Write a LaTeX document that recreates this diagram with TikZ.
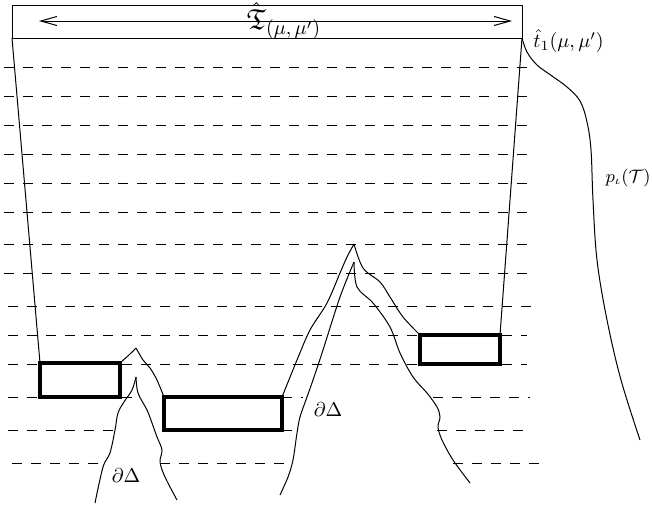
\documentclass[tikz,border=0pt]{standalone}
\usepackage{amssymb}
\usepackage{tikz}
\usetikzlibrary{arrows.meta, fit}
\tikzset{
  % --- level lines and walls ---
  levelline/.style={dash pattern=on 5pt off 4.5pt, line width=0.5pt},
  wall/.style={line width=0.5pt},
  span/.style={{Straight Barb[length=8pt, width=4.5pt]}-{Straight Barb[length=8pt, width=4.5pt]},
    line width=0.5pt},
  % --- thick slabs ---
  slab/.style={draw, line width=2.4pt, inner sep=0pt, outer sep=0pt, fill=white},
  % --- boundary curves ---
  ridge/.style={line width=0.5pt, smooth, tension=0.55},
  tag/.style={inner sep=0pt, font=\normalsize},
}

\begin{document}
\begin{tikzpicture}[x=0.5pt, y=-0.5pt]
    \useasboundingbox (0,0) rectangle (652,504);

    % ---- Level lines ----
    \foreach \y in {67,96,125,154,183,212,244,273}{ \draw[levelline] (4,\y) -- (530,\y); }
    \draw[levelline] (8,306) -- (537,306);
    \draw[levelline] (8,335) -- (527,335);
    \draw[levelline] (8,364) -- (527,364);
    \foreach \a/\b/\y in {8/135/397, 282/303/397, 433/530/397,
                          8/115/430, 282/297/430, 437/523/430,
                          12/100/463, 160/287/463, 453/540/463}{
      \draw[levelline] (\a,\y) -- (\b,\y);
    }

    % ---- Top strip with its span ----
    \coordinate (wtl) at (12,5);
    \coordinate (wbl) at (12,38);
    \coordinate (wbr) at (522,38);
    \draw[wall] (wtl) rectangle (wbr);
    \coordinate (al) at (39,21);
    \coordinate (ar) at (512,21);
    \draw[span] (al) -- (ar);
    \node[tag, font=\Large] (tlab) at (284,21) {$\hat{\mathfrak{T}}_{(\mu,\,\mu')}$};
    \node[tag, anchor=west] (hlab) at (533,41) {$\hat{t}_1(\mu,\mu')$};

    % ---- Slabs ----
    \node[slab, fit={(40,363) (120,397)}] (boxA) {};
    \node[slab, fit={(164,397) (282,430)}] (boxB) {};
    \node[slab, fit={(420,335) (500,364)}] (boxC) {};

    % ---- Side walls ----
    \draw[wall] (wbl) -- (boxA.north west);
    \draw[wall] (wbr) -- (boxC.north east);

    % ---- Right curve ----
    \draw[ridge, tension=0.6] plot coordinates {(wbr) (527,52) (537,65) (552,76) (567,87)
      (580,101) (587,122) (591,150) (593,200) (597,260) (607,320) (621,380) (640,440)};
    \node[tag, anchor=east, font=\small] (plab) at (651,178) {$p_\iota(\mathcal{T})$};

    % ---- Small peak ----
    \draw[ridge] plot coordinates {(boxA.north east) (130,354) (136,348)};
    \draw[ridge] plot coordinates {(136,348) (143,360) (150,368) (157,380) (boxB.north west)};
    \draw[ridge] plot coordinates {(95,503) (103,467) (110,453) (115,430) (118,413)
      (124,402) (132,390) (136,377)};
    \draw[ridge] plot coordinates {(136,377) (138,393) (147,410) (152,423) (157,437)
      (162,450) (160,462) (165,477) (177,500)};
    \node[tag] (dlab1) at (126,476) {$\partial\Delta$};

    % ---- Large peak ----
    \draw[ridge] plot coordinates {(boxB.north east) (297,360) (310,330) (327,303)
      (340,273) (347,257) (354,244)};
    \draw[ridge] plot coordinates {(354,244) (363,268) (380,282) (390,297) (403,317)
      (boxC.north west)};
    \draw[ridge] plot coordinates {(280,495) (288,477) (293,460) (297,433) (300,417)
      (307,397) (313,380) (323,350) (340,297) (354,262)};
    \draw[ridge] plot coordinates {(354,262) (357,287) (373,303) (390,327) (400,353)
      (413,377) (427,393) (437,407) (440,417) (438,427) (442,440) (453,460) (470,483)};
    \node[tag] (dlab2) at (328,410) {$\partial\Delta$};
\end{tikzpicture}
\end{document}
